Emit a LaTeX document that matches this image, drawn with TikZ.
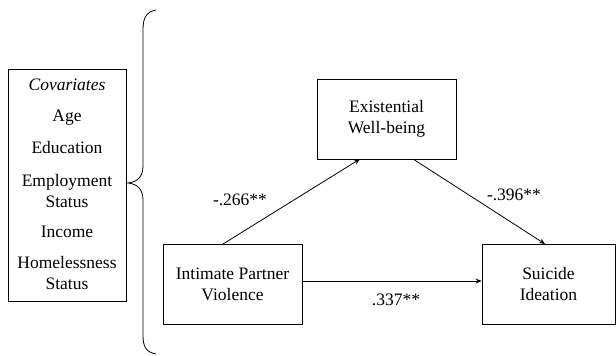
\documentclass[tikz,border=0pt]{standalone}
\usepackage{fontspec}
\setmainfont{Liberation Serif}
\usetikzlibrary{arrows.meta}
\begin{document}
\begin{tikzpicture}[x=1pt,y=-1pt,
  box/.style={draw,line width=0.9pt,inner sep=0pt},
  txt/.style={font=\fontsize{17.5}{21}\selectfont,align=center,inner sep=0pt},
  arr/.style={-{Stealth[length=6pt,width=5pt]},line width=0.8pt}]
\useasboundingbox (0,0) rectangle (616,356);
% boxes
\node[box,minimum width=118pt,minimum height=232pt] (cov) at (67,185) {};
\node[box,minimum width=139pt,minimum height=80pt] (ewb) at (386.5,119) {};
\node[box,minimum width=139pt,minimum height=80pt] (ipv) at (232.5,284) {};
\node[box,minimum width=133pt,minimum height=80pt] (si) at (548.5,284) {};
% box texts
\node[txt] (ewbt) at (ewb) {Existential\\Well-being};
\node[txt] (ipvt) at (ipv) {Intimate Partner\\Violence};
\node[txt] (sit) at (si) {Suicide\\Ideation};
% covariates
\node[txt] (c0) at (67,85) {\itshape Covariates};
\node[txt] (c1) at (67,118) {Age};
\node[txt] (c2) at (67,148) {Education};
\node[txt] (c3) at (67,191) {Employment\\Status};
\node[txt] (c4) at (67,232) {Income};
\node[txt] (c5) at (67,273) {Homelessness\\Status};
% brace
\draw[line width=0.8pt] (156,10) .. controls (146,12) and (143,18) .. (143,30)
  -- (143,166) .. controls (143,176) and (138,182) .. (128,183)
  .. controls (138,184) and (143,190) .. (143,200)
  -- (143,335) .. controls (143,347) and (146,352) .. (156,354);
% arrows
\coordinate (a1s) at (223,244);
\coordinate (a1e) at (360,159);
\coordinate (a2s) at (413,159);
\coordinate (a2e) at (545,244);
\draw[arr] (a1s) -- (a1e);
\draw[arr] (a2s) -- (a2e);
\draw[arr] (ipv.east |- 0,281) -- (si.west |- 0,281);
% labels
\node[txt] (l1) at (240,200) {-.266**};
\node[txt] (l2) at (514,195) {-.396**};
\node[txt] (l3) at (396,300) {.337**};
\end{tikzpicture}
\end{document}
